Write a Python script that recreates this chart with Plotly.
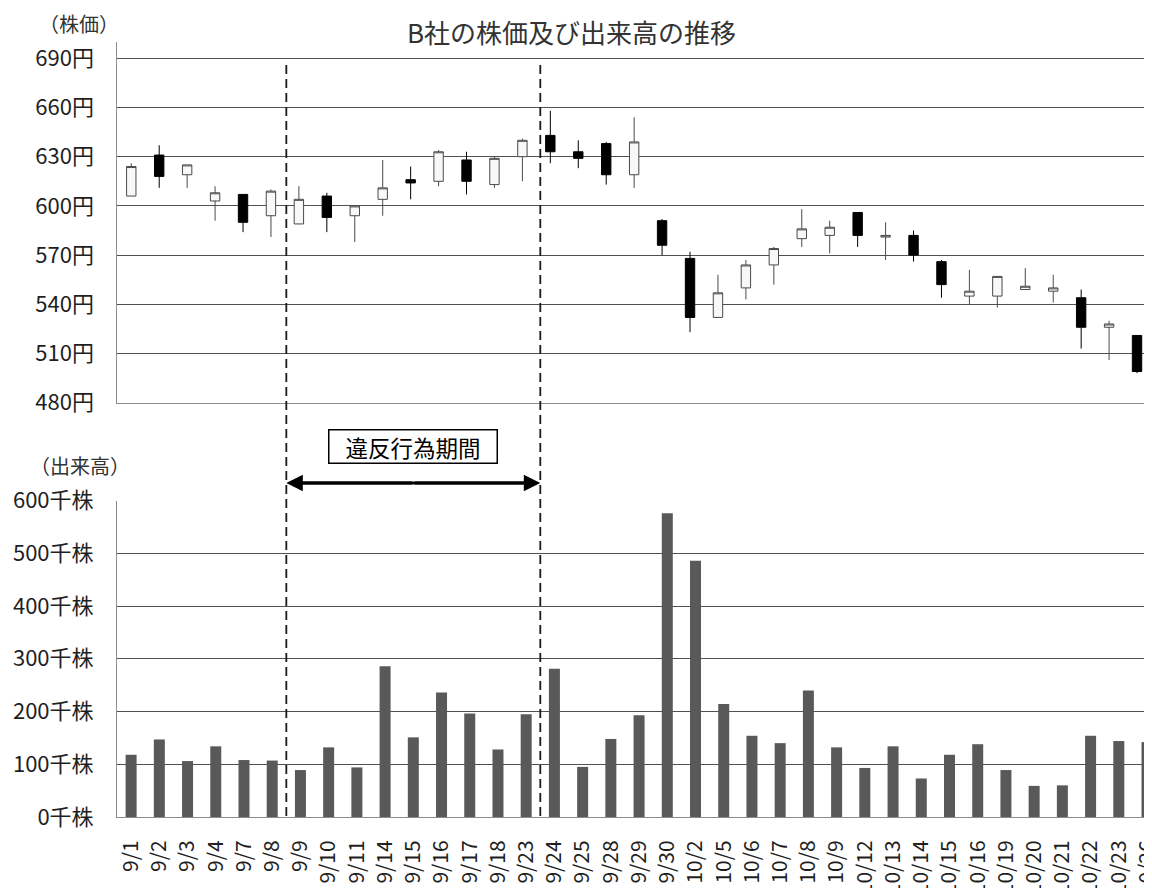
import plotly.graph_objects as go

dates = ["9/1", "9/2", "9/3", "9/4", "9/7", "9/8", "9/9", "9/10", "9/11", "9/14",
         "9/15", "9/16", "9/17", "9/18", "9/23", "9/24", "9/25", "9/28", "9/29", "9/30",
         "10/2", "10/5", "10/6", "10/7", "10/8", "10/9", "10/12", "10/13", "10/14", "10/15",
         "10/16", "10/19", "10/20", "10/21", "10/22", "10/23", "10/26"]
open_p = [606, 631, 619, 603, 607, 594, 589, 606, 594, 604,
          616, 615, 628, 613, 630, 643, 633, 638, 619, 591,
          568, 532, 550, 564, 580, 582, 596, 581, 582, 566,
          545, 545, 549, 548, 544, 526, 521]
high_p = [626, 637, 625, 612, 607, 610, 612, 608, 600, 628,
          624, 634, 633, 630, 641, 658, 640, 639, 654, 592,
          572, 558, 567, 575, 598, 591, 596, 590, 585, 567,
          561, 557, 562, 558, 549, 530, 521]
low_p = [606, 611, 611, 591, 584, 581, 589, 584, 578, 594,
         604, 612, 607, 611, 615, 626, 623, 613, 611, 570,
         523, 532, 543, 552, 575, 571, 575, 567, 566, 544,
         540, 538, 549, 541, 513, 506, 498]
close_p = [624, 618, 625, 608, 590, 609, 604, 593, 600, 611,
           614, 633, 615, 629, 640, 633, 629, 619, 639, 576,
           532, 547, 564, 574, 586, 587, 582, 582, 570, 552,
           548, 557, 551, 550, 526, 528, 499]
volume = [118, 147, 106, 134, 108, 107, 89, 132, 94, 286,
          151, 236, 196, 128, 195, 281, 95, 148, 193, 576,
          486, 214, 154, 140, 240, 132, 93, 134, 73, 118,
          138, 89, 59, 60, 154, 144, 142]

price_ticks = [480, 510, 540, 570, 600, 630, 660, 690]
price_labels = [f"{v}円" for v in price_ticks]
vol_ticks = [0, 100, 200, 300, 400, 500, 600]
vol_labels = [f"{v}千株" for v in vol_ticks]

title_text = "B社の株価及び出来高の推移"
price_axis_label = "（株価）"
vol_axis_label = "（出来高）"
period_label = "違反行為期間"
period_start = "9/9"
period_end = "9/24"

FONT = "Noto Sans CJK JP"
OFF = 8                      # page body margin in the browser
W, H = 1152 - OFF, 888 - OFF

def px(x):   # reference pixel x -> paper
    return (x - OFF) / W

def py(y):   # reference pixel y -> paper
    return (H - (y - OFF)) / H

fig = go.Figure()

fig.add_trace(go.Candlestick(
    x=dates, open=open_p, high=high_p, low=low_p, close=close_p,
    increasing=dict(fillcolor="#f8f8f8", line=dict(color="#4a4a4a", width=1)),
    decreasing=dict(fillcolor="#000000", line=dict(color="#000000", width=1)),
    whiskerwidth=0, xaxis="x", yaxis="y", showlegend=False,
))

fig.add_trace(go.Bar(
    x=dates, y=volume, marker=dict(color="#595959", line=dict(width=0)),
    xaxis="x2", yaxis="y2", showlegend=False,
))

i0 = dates.index(period_start) - 0.5
i1 = dates.index(period_end) - 0.5
cat_px = 28.22
xr_top = [-0.5, len(dates) - 0.5]
xdom_top = [px(117.3), px(1151)]
xr_bot = [-0.5, -0.5 + (1152 - 117) / cat_px]
xdom_bot = [px(117), 1.0]
ytickfont = dict(family=FONT, size=22, color="#1f1f1f")
xtickfont = dict(family=FONT, size=21, color="#1f1f1f")

fig.update_layout(
    width=W, height=H,
    margin=dict(l=0, r=0, t=0, b=0),
    paper_bgcolor="white", plot_bgcolor="white",
    boxgap=0.52, bargap=0.61,
    font=dict(family=FONT),
    xaxis=dict(domain=xdom_top, anchor="y", type="category", range=xr_top,
               showticklabels=False, showgrid=False, rangeslider=dict(visible=False),
               showline=True, linecolor="#8c8c8c", linewidth=1, automargin=False),
    yaxis=dict(domain=[py(402.7), py(41.9)], anchor="x", range=[480, 700],
               tickvals=price_ticks, ticktext=price_labels, tickfont=ytickfont,
               showgrid=True, gridcolor="#505050", gridwidth=1, zeroline=False,
               showline=True, linecolor="#8c8c8c", linewidth=1,
               ticks="", ticklabelstandoff=18, automargin=False),
    xaxis2=dict(domain=xdom_bot, anchor="y2", type="category", range=xr_bot,
                tickangle=-90, tickfont=xtickfont, showgrid=False,
                showline=True, linecolor="#8c8c8c", linewidth=1,
                ticks="", ticklabelstandoff=14, automargin=False),
    yaxis2=dict(domain=[py(817), py(500.5)], anchor="x2", range=[0, 600],
                tickvals=vol_ticks, ticktext=vol_labels, tickfont=ytickfont,
                showgrid=True, gridcolor="#505050", gridwidth=1, zeroline=False,
                showline=True, linecolor="#8c8c8c", linewidth=1,
                ticks="", ticklabelstandoff=18, automargin=False),
)

# extend top gridlines to the right edge like the reference
for v in price_ticks[1:]:
    fig.add_shape(type="line", xref="paper", yref="y", x0=px(1150), x1=1.0,
                  y0=v, y1=v, line=dict(color="#505050", width=1))

# dashed period boundaries
for xv in (i0, i1):
    fig.add_shape(type="line", xref="x2", yref="paper", x0=xv, x1=xv,
                  y0=py(816), y1=py(62),
                  line=dict(color="#1a1a1a", width=1.8, dash="9px,5px"))

# double-headed arrow
arrow_y = py(483)
fig.add_shape(type="line", xref="x2", yref="paper", x0=i0 + 0.3, x1=i1 - 0.3,
              y0=arrow_y, y1=arrow_y, line=dict(color="#000000", width=3))
half_px = (i1 - i0) * cat_px / 2
for xv, ax in ((i0, half_px), (i1, -half_px)):
    fig.add_annotation(x=xv, y=arrow_y, xref="x2", yref="paper", text="",
                       showarrow=True, axref="pixel", ayref="pixel", ax=ax, ay=0,
                       arrowhead=2, arrowsize=1.1, arrowwidth=3, arrowcolor="#000000",
                       standoff=0)

# period label box
fig.add_annotation(x=(i0 + i1) / 2, y=py(446.5), xref="x2", yref="paper",
                   xanchor="center", yanchor="middle",
                   text=period_label, showarrow=False,
                   font=dict(family=FONT, size=22.5, color="#000000"),
                   bgcolor="white", bordercolor="#000000", borderwidth=1.5,
                   borderpad=2, width=163, height=28, align="center")

# title & axis labels
fig.add_annotation(x=px(571), y=py(32), xref="paper", yref="paper", text=title_text,
                   xanchor="center", yanchor="middle", showarrow=False,
                   font=dict(family=FONT, size=26, color="#333333"))
fig.add_annotation(x=px(79), y=py(23), xref="paper", yref="paper", text=price_axis_label,
                   xanchor="center", yanchor="middle", showarrow=False,
                   font=dict(family=FONT, size=20, color="#333333"))
fig.add_annotation(x=px(80), y=py(465), xref="paper", yref="paper", text=vol_axis_label,
                   xanchor="center", yanchor="middle", showarrow=False,
                   font=dict(family=FONT, size=20, color="#333333"))

fig.write_html("out.html")
